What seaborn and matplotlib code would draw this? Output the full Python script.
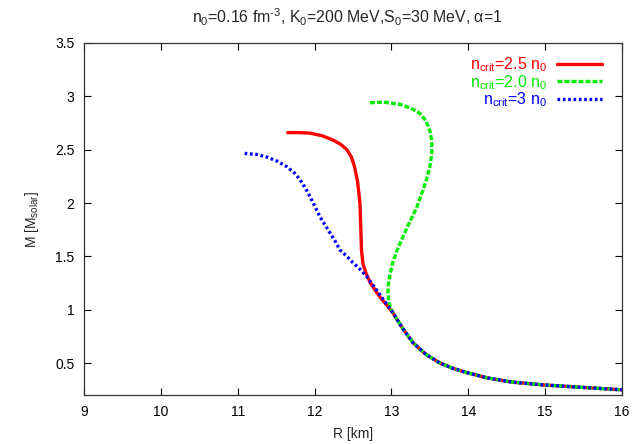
import numpy as np
import pandas as pd
import matplotlib
matplotlib.use("Agg")
import matplotlib.pyplot as plt
import seaborn as sns

# Mass-radius relations for three critical densities (R in km, M in solar masses)
tail_R = [13.02, 13.15, 13.28, 13.45, 13.63, 13.80, 13.98, 14.25, 14.58, 14.97, 15.40, 15.97, 16.00]
tail_M = [0.97, 0.82, 0.69, 0.58, 0.50, 0.45, 0.41, 0.36, 0.32, 0.295, 0.275, 0.25, 0.249]

red_R = [11.65, 11.80, 11.94, 12.10, 12.24, 12.34, 12.42, 12.48, 12.52, 12.56, 12.59, 12.60, 12.61, 12.63, 12.67, 12.72, 12.78, 12.85, 12.93]
red_M = [2.66, 2.66, 2.655, 2.63, 2.59, 2.55, 2.50, 2.43, 2.34, 2.20, 2.00, 1.80, 1.56, 1.43, 1.34, 1.26, 1.19, 1.12, 1.05]

green_R = [12.72, 12.90, 13.11, 13.25, 13.37, 13.45, 13.50, 13.525, 13.525, 13.50, 13.46, 13.41, 13.33, 13.21, 13.13, 13.07, 13.02, 12.985, 12.96, 12.955, 12.965, 12.99]
green_M = [2.94, 2.945, 2.925, 2.89, 2.84, 2.77, 2.68, 2.58, 2.46, 2.34, 2.23, 2.12, 1.96, 1.78, 1.65, 1.55, 1.45, 1.34, 1.24, 1.16, 1.08, 1.01]

blue_R = [11.09, 11.25, 11.38, 11.52, 11.64, 11.74, 11.81, 11.88, 11.94, 12.01, 12.07, 12.14, 12.20, 12.27, 12.33, 12.42, 12.50, 12.59, 12.68, 12.76, 12.85, 12.93]
blue_M = [2.465, 2.455, 2.43, 2.39, 2.34, 2.28, 2.22, 2.14, 2.06, 1.96, 1.87, 1.79, 1.72, 1.64, 1.56, 1.50, 1.44, 1.38, 1.31, 1.23, 1.14, 1.06]

labels = [r"n$_{crit}$=2.5 n$_0$", r"n$_{crit}$=2.0 n$_0$", r"n$_{crit}$=3 n$_0$"]
colors = ["#ff0000", "#00ee00", "#0000ff"]
dashes = ["-", (0, (1.5, 0.6)), (0, (0.8, 0.8))]

frames = []
for lab, R, M in zip(labels, [red_R, green_R, blue_R], [red_M, green_M, blue_M]):
    frames.append(pd.DataFrame({"R": list(R) + tail_R, "M": list(M) + tail_M, "model": lab}))

sns.set_theme(style="ticks")
plt.rcParams["font.family"] = ["Liberation Sans", "DejaVu Sans"]
plt.rcParams["mathtext.fontset"] = "custom"
plt.rcParams["mathtext.rm"] = "Liberation Sans"
plt.rcParams["mathtext.it"] = "Liberation Sans"

fig = plt.figure(figsize=(6.33, 4.44), dpi=100)
ax = fig.add_axes([84 / 633, 1 - 395 / 444, (622 - 84) / 633, (395 - 43) / 444])

for df, c, ls in zip(frames, colors, dashes):
    sns.lineplot(data=df, x="R", y="M", sort=False, estimator=None, color=c,
                 linewidth=2.4, linestyle=ls, label=df["model"].iloc[0], ax=ax)

ax.set_xlim(9, 16)
ax.set_ylim(0.2, 3.5)
ax.set_xticks(range(9, 17))
ax.set_yticks([0.5, 1, 1.5, 2, 2.5, 3, 3.5])
ax.set_yticklabels(["0.5", "1", "1.5", "2", "2.5", "3", "3.5"])
ax.tick_params(direction="in", top=True, right=True, length=5, width=0.8,
               labelsize=10, pad=7, colors="black")
for s in ax.spines.values():
    s.set_linewidth(0.9)
    s.set_color("#333333")

ax.set_xlabel("R [km]", fontsize=10, labelpad=6)
ax.set_ylabel(r"M [M$_{solar}$]", fontsize=10, labelpad=10)
ax.set_title(r"n$_0$=0.16 fm$^{\text{-3}}$, K$_0$=200 MeV,S$_0$=30 MeV, $\alpha$=1",
             fontsize=11.4, pad=14, x=0.49)

leg = ax.legend(loc="upper right", frameon=False, markerfirst=False,
                labelcolor="linecolor", fontsize=11.5, handlelength=2.8,
                handletextpad=0.6, labelspacing=-0.08, borderaxespad=0,
                bbox_to_anchor=(1 - 14 / 538, 1 - 6 / 352))

fig.savefig("out.png", dpi=100)
